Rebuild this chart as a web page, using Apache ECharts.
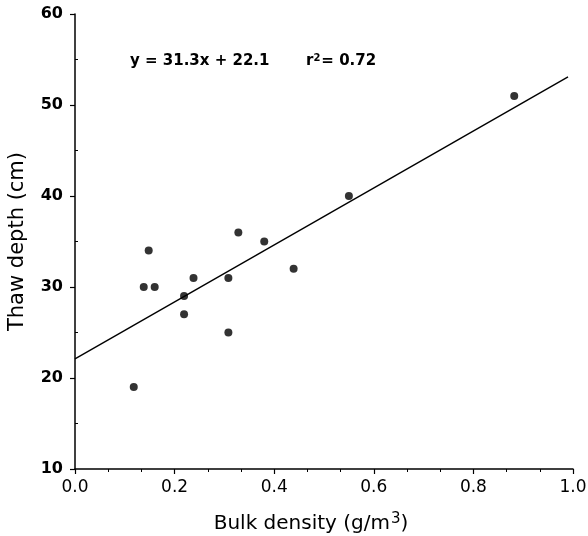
<!DOCTYPE html>
<html>
<head>
<meta charset="utf-8">
<script src="https://cdn.jsdelivr.net/npm/echarts@6/dist/echarts.min.js"></script>
<style>
  html, body { margin: 0; padding: 0; background: #fff; }
  #chart { width: 588px; height: 536px; }
</style>
</head>
<body>
<div id="chart"></div>
<script>
// bulk density (g/m3) vs thaw depth (cm)
var bulkDensity = [0.118, 0.138, 0.148, 0.160, 0.219, 0.219, 0.238, 0.308, 0.308, 0.328, 0.380, 0.439, 0.55, 0.882];
var thawDepth   = [19, 30, 34, 30, 29, 27, 31, 31, 25, 36, 35, 32, 40, 51];

// fitted line y = 31.3x + 22.1
var slope = 31.3;
var intercept = 22.1;
var lineRange = [0, 0.99];

var xTicks = [0, 0.2, 0.4, 0.6, 0.8, 1.0];
var yTicks = [10, 20, 30, 40, 50, 60];

var points = bulkDensity.map(function (x, i) { return [x, thawDepth[i]]; });
var fitLine = lineRange.map(function (x) { return [x, slope * x + intercept]; });

var font = 'DejaVu Sans';

var option = {
  backgroundColor: '#fff',
  animation: false,
  grid: { left: 75, right: 15, top: 14, bottom: 67, outerBoundsMode: 'none' },
  graphic: [
    {
      type: 'text',
      left: 130,
      top: 54,
      style: {
        text: 'y = 31.3x + 22.1',
        font: 'bold 15px ' + font,
        fill: '#000'
      }
    },
    {
      type: 'text',
      left: 306,
      top: 53,
      style: {
        text: '{a|r}{s|2}{a|= 0.72}',
        fill: '#000',
        rich: {
          a: { fontFamily: font, fontSize: 15, fontWeight: 'bold', color: '#000', padding: [7, 0, 0, 0] },
          s: { fontFamily: font, fontSize: 10, fontWeight: 'bold', color: '#000', padding: [0, 1, 0, 0] }
        }
      }
    }
  ],
  xAxis: {
    type: 'value',
    min: xTicks[0],
    max: xTicks[xTicks.length - 1],
    interval: 0.2,
    name: '{a|Bulk density (g/m}{s|3}{a|)}',
    nameLocation: 'middle',
    nameGap: 36,
    nameTextStyle: {
      padding: [0, 26, 0, 0],
      rich: {
        a: { fontFamily: font, fontSize: 20, color: '#000', padding: [9, 0, 0, 0] },
        s: { fontFamily: font, fontSize: 15, color: '#000', padding: [0, 0, 0, 1] }
      }
    },
    axisLine: { lineStyle: { color: '#000', width: 1.5 } },
    axisTick: { length: 5, lineStyle: { color: '#000', width: 1.2 } },
    minorTick: { show: true, splitNumber: 3, length: 3, lineStyle: { color: '#000', width: 1 } },
    splitLine: { show: false },
    axisLabel: {
      color: '#000',
      fontFamily: font,
      fontSize: 17,
      margin: 10,
      formatter: function (v) { return v.toFixed(1); }
    }
  },
  yAxis: {
    type: 'value',
    min: yTicks[0],
    max: yTicks[yTicks.length - 1],
    interval: 10,
    name: 'Thaw depth (cm)',
    nameLocation: 'middle',
    nameGap: 47,
    nameTextStyle: { fontFamily: font, fontSize: 21, color: '#000' },
    axisLine: { show: true, lineStyle: { color: '#000', width: 1.5 } },
    axisTick: { show: true, length: 5, lineStyle: { color: '#000', width: 1.2 } },
    minorTick: { show: true, splitNumber: 2, length: -3, lineStyle: { color: '#000', width: 1 } },
    splitLine: { show: false },
    axisLabel: { color: '#000', fontFamily: font, fontSize: 16, fontWeight: 'bold', margin: 12 }
  },
  series: [
    {
      type: 'line',
      data: fitLine,
      showSymbol: false,
      lineStyle: { color: '#000', width: 1.4 },
      silent: true
    },
    {
      type: 'scatter',
      data: points,
      symbol: 'circle',
      symbolSize: 8,
      itemStyle: { color: '#000' }
    }
  ]
};

var chart = echarts.init(document.getElementById('chart'));
chart.setOption(option);
</script>
</body>
</html>
